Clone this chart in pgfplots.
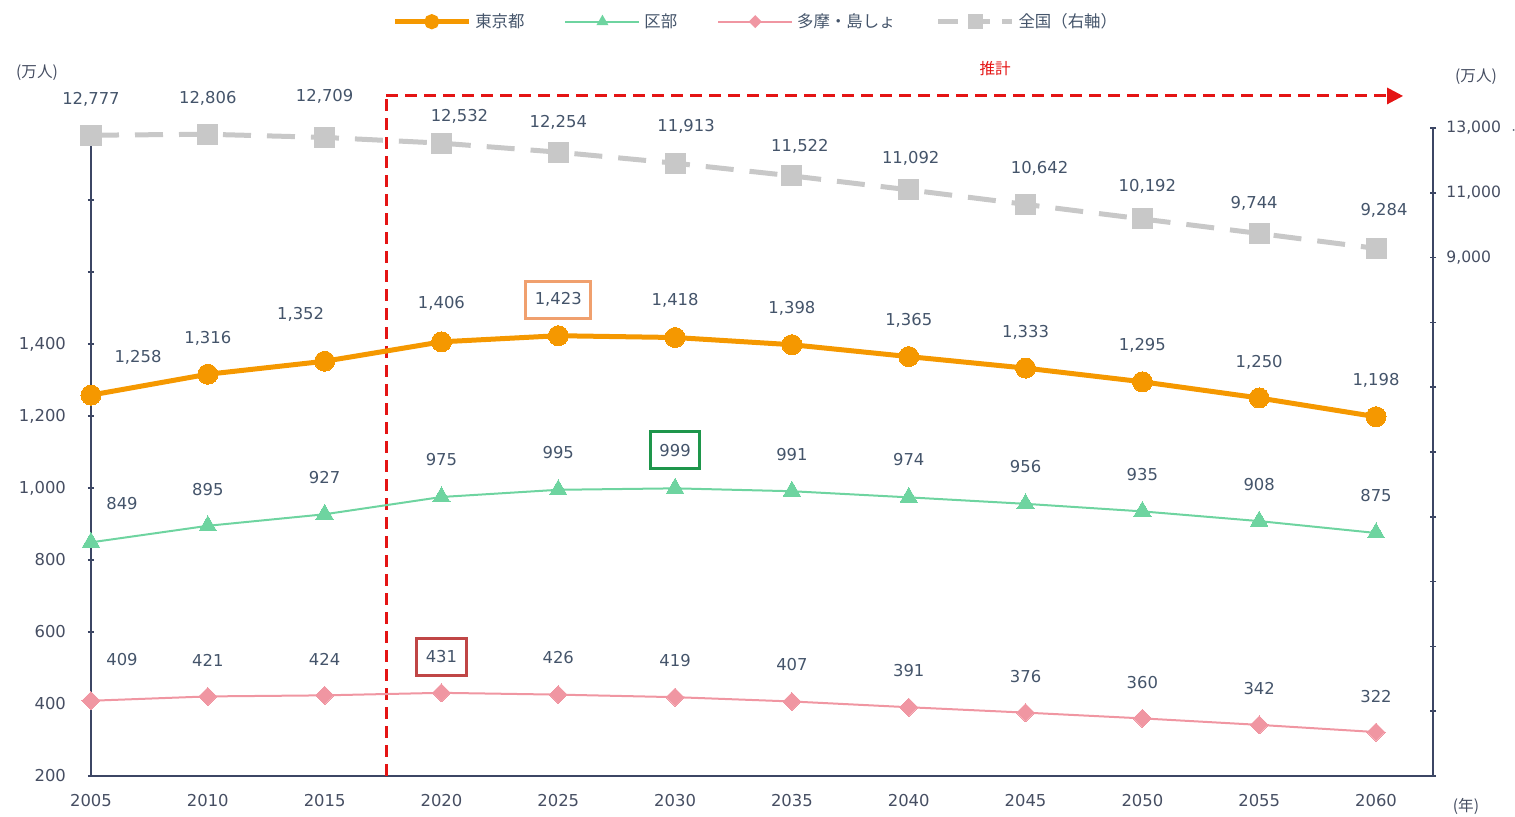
\documentclass[border=0pt]{standalone}
\usepackage{pgfplots}
\pgfplotsset{compat=1.18}
\usepackage{pgfplotstable}
\usepackage{fontspec}
\setmainfont{DejaVu Sans}
\newfontfamily\jp{Noto Sans CJK JP}
\usetikzlibrary{arrows.meta}
\definecolor{orange1}{RGB}{245,152,0}
\definecolor{green1}{RGB}{110,212,160}
\definecolor{pink1}{RGB}{240,150,162}
\definecolor{gray1}{RGB}{200,200,200}
\definecolor{axiscol}{RGB}{60,70,100}
\definecolor{tickcol}{RGB}{70,78,98}
\definecolor{lblcol}{RGB}{68,84,106}
\definecolor{redc}{RGB}{228,20,20}
\definecolor{boxor}{RGB}{240,160,110}
\definecolor{boxgr}{RGB}{30,150,75}
\definecolor{boxrd}{RGB}{192,70,70}
\newcommand\fs{\fontsize{8.2}{10}\selectfont}

\pgfplotstableread{
x y dx dy bo
2005 1258 23.5 19 0
2010 1316 0 18 0
2015 1352 -12 23.5 0
2020 1406 0 19 0
2025 1423 0 18 1
2030 1418 0 18.5 0
2035 1398 0 18 0
2040 1365 0 18 0
2045 1333 0 18 0
2050 1295 0 18 0
2055 1250 0 18 0
2060 1198 0 18 0
}\tokyo
\pgfplotstableread{
x y dx dy bo
2005 849 15.5 19.5 0
2010 895 0 18 0
2015 927 0 18.5 0
2020 975 0 18.5 0
2025 995 0 18.5 0
2030 999 0 19 1
2035 991 0 18.5 0
2040 974 0 19 0
2045 956 0 18.5 0
2050 935 0 18.5 0
2055 908 0 18.5 0
2060 875 0 18.5 0
}\kubu
\pgfplotstableread{
x y dx dy bo
2005 409 15.5 20.5 0
2010 421 0 18 0
2015 424 0 18 0
2020 431 0 18 1
2025 426 0 18.5 0
2030 419 0 18.5 0
2035 407 0 18.5 0
2040 391 0 18.5 0
2045 376 0 18 0
2050 360 0 18 0
2055 342 0 18 0
2060 322 0 18 0
}\tama
\pgfplotstableread{
x y dx dy bo
2005 12777 0 18 0
2010 12806 0 18 0
2015 12709 0 20.5 0
2020 12532 9 13.5 0
2025 12254 0 15 0
2030 11913 5.5 18.5 0
2035 11522 4 15 0
2040 11092 1 15.5 0
2045 10642 7 18 0
2050 10192 2.5 16.5 0
2055 9744 -2.5 15 0
2060 9284 4 19 0
}\zenkoku

\pgfplotsset{
  lblstyle/.style={
    nodes near coords={\pgfmathprintnumber[fixed,precision=0,1000 sep={,},assume math mode=true]{\pgfplotspointmeta}},
    point meta=y,
    visualization depends on={\thisrow{dx}\as\dx},
    visualization depends on={\thisrow{dy}\as\dy},
    visualization depends on={\thisrow{bo}\as\bo},
    every node near coord/.append style={anchor=center, font=\fs, text=lblcol,
      xshift=\dx pt, yshift=\dy pt, draw=#1, draw opacity=\bo, line width=1.5pt,
      inner xsep=4.5pt, inner ysep=2pt, minimum height=18.5pt},
  },
  baseaxis/.style={
    at={(0,0)}, anchor=south west,
    width=671pt, height=324pt, scale only axis,
    xmin=2005, xmax=2062.44,
    clip=false,
    axis line style={-, draw=axiscol, line width=1pt},
    every non boxed x axis/.append style={x axis line style={-}},
    every non boxed y axis/.append style={y axis line style={-}},
    tick align=inside, major tick length=3pt,
    ticklabel style={font=\fs, text=tickcol},
    y tick style={draw=axiscol, line width=0.8pt},
    x tick style={draw=none},
  },
}

\begin{document}
\begin{tikzpicture}
\useasboundingbox (-45.5pt,-20.5pt) rectangle (712pt,388pt);
\begin{axis}[baseaxis,
  ymin=200, ymax=2000,
  axis x line=bottom, axis y line=left,
  x axis line style={-}, y axis line style={-},
  xtick={2005,2010,2015,2020,2025,2030,2035,2040,2045,2050,2055,2060},
  xticklabels={2005,2010,2015,2020,2025,2030,2035,2040,2045,2050,2055,2060},
  xticklabel style={yshift=-4pt},
  ytick={200,400,600,800,1000,1200,1400,1600,1800,2000},
  yticklabels={200,400,600,800,{1,000},{1,200},{1,400},,,},
  yticklabel style={xshift=-7.5pt},
]
\draw[redc, line width=1.5pt, dash pattern=on 6pt off 3.5pt] (axis cs:2017.63,200) -- (axis cs:2017.63,2089);
\draw[redc, line width=1.5pt, dash pattern=on 6pt off 3.5pt, -{Triangle[length=8pt,width=8pt]}] (axis cs:2017.63,2089) -- (axis cs:2061.16,2089);
\node[text=redc, font=\jp\fontsize{7.8}{9}\selectfont] at (axis cs:2043.7,2164) {推計};
\node[text=tickcol, font=\jp\fontsize{7.8}{9}\selectfont] at (axis cs:2002.69,2152.8) {(万人)};
\node[text=tickcol, font=\jp\fontsize{7.8}{9}\selectfont] at (axis cs:2064.28,2141.7) {(万人)};
\node[text=tickcol, font=\jp\fontsize{7.8}{9}\selectfont] at (axis cs:2063.85,116.7) {(年)};

\addplot[color=pink1, line width=1pt, mark=square*, mark size=3.2pt, mark options={solid, rotate=45, fill=pink1, draw=pink1, line width=0pt}, lblstyle=boxrd] table[x=x,y=y] {\tama};
\addplot[color=green1, line width=1pt, mark=triangle*, mark size=5pt, mark options={solid, fill=green1, draw=green1, line width=0pt}, lblstyle=boxgr] table[x=x,y=y] {\kubu};
\addplot[color=orange1, line width=2.5pt, mark=*, mark size=5pt, mark options={solid, fill=orange1, draw=orange1, line width=0pt}, lblstyle=boxor] table[x=x,y=y] {\tokyo};
\end{axis}

\begin{axis}[baseaxis,
  ymin=-7000, ymax=13000,
  axis x line=none, axis y line=right,
  y axis line style={-},
  ytick={-7000,-5000,-3000,-1000,1000,3000,5000,7000,9000,11000,13000},
  yticklabels={,,,,,,,,{9,000},{11,000},{13,000}},
  yticklabel style={xshift=5pt, inner xsep=0pt, font=\fontsize{7.8}{10}\selectfont},
  legend style={at={(0.496,1.164)}, anchor=center, draw=none, fill=none,
    font=\jp\fontsize{8.2}{10}\selectfont, text=lblcol,
    /tikz/every even column/.append style={column sep=18pt}},
  legend columns=4,
  legend cell align=left,
  legend image code/.code={\draw[#1, mark size=2.5pt, mark repeat=2, mark phase=2] plot coordinates {(0cm,0cm) (0.65cm,0cm) (1.3cm,0cm)};},
]
\addplot[forget plot, color=gray1, line width=2.5pt, dash pattern=on 14pt off 8pt, mark=square*, mark size=5pt, mark options={solid, fill=gray1, draw=gray1, line width=0pt}, lblstyle=gray1] table[x=x,y=y] {\zenkoku};
\addlegendimage{color=orange1, line width=2.5pt, mark=*, mark options={solid, fill=orange1, draw=orange1}}
\addlegendentry{東京都}
\addlegendimage{color=green1, line width=1pt, mark=triangle*, mark options={solid, fill=green1, draw=green1}}
\addlegendentry{区部}
\addlegendimage{color=pink1, line width=1pt, mark=square*, mark options={solid, rotate=45, mark size=1.8pt, fill=pink1, draw=pink1}}
\addlegendentry{多摩・島しょ}
\addlegendimage{color=gray1, line width=2.5pt, dash pattern=on 10pt off 6pt, mark=square*, mark options={solid, fill=gray1, draw=gray1}}
\addlegendentry{全国（右軸）}
\end{axis}
\end{tikzpicture}
\end{document}
